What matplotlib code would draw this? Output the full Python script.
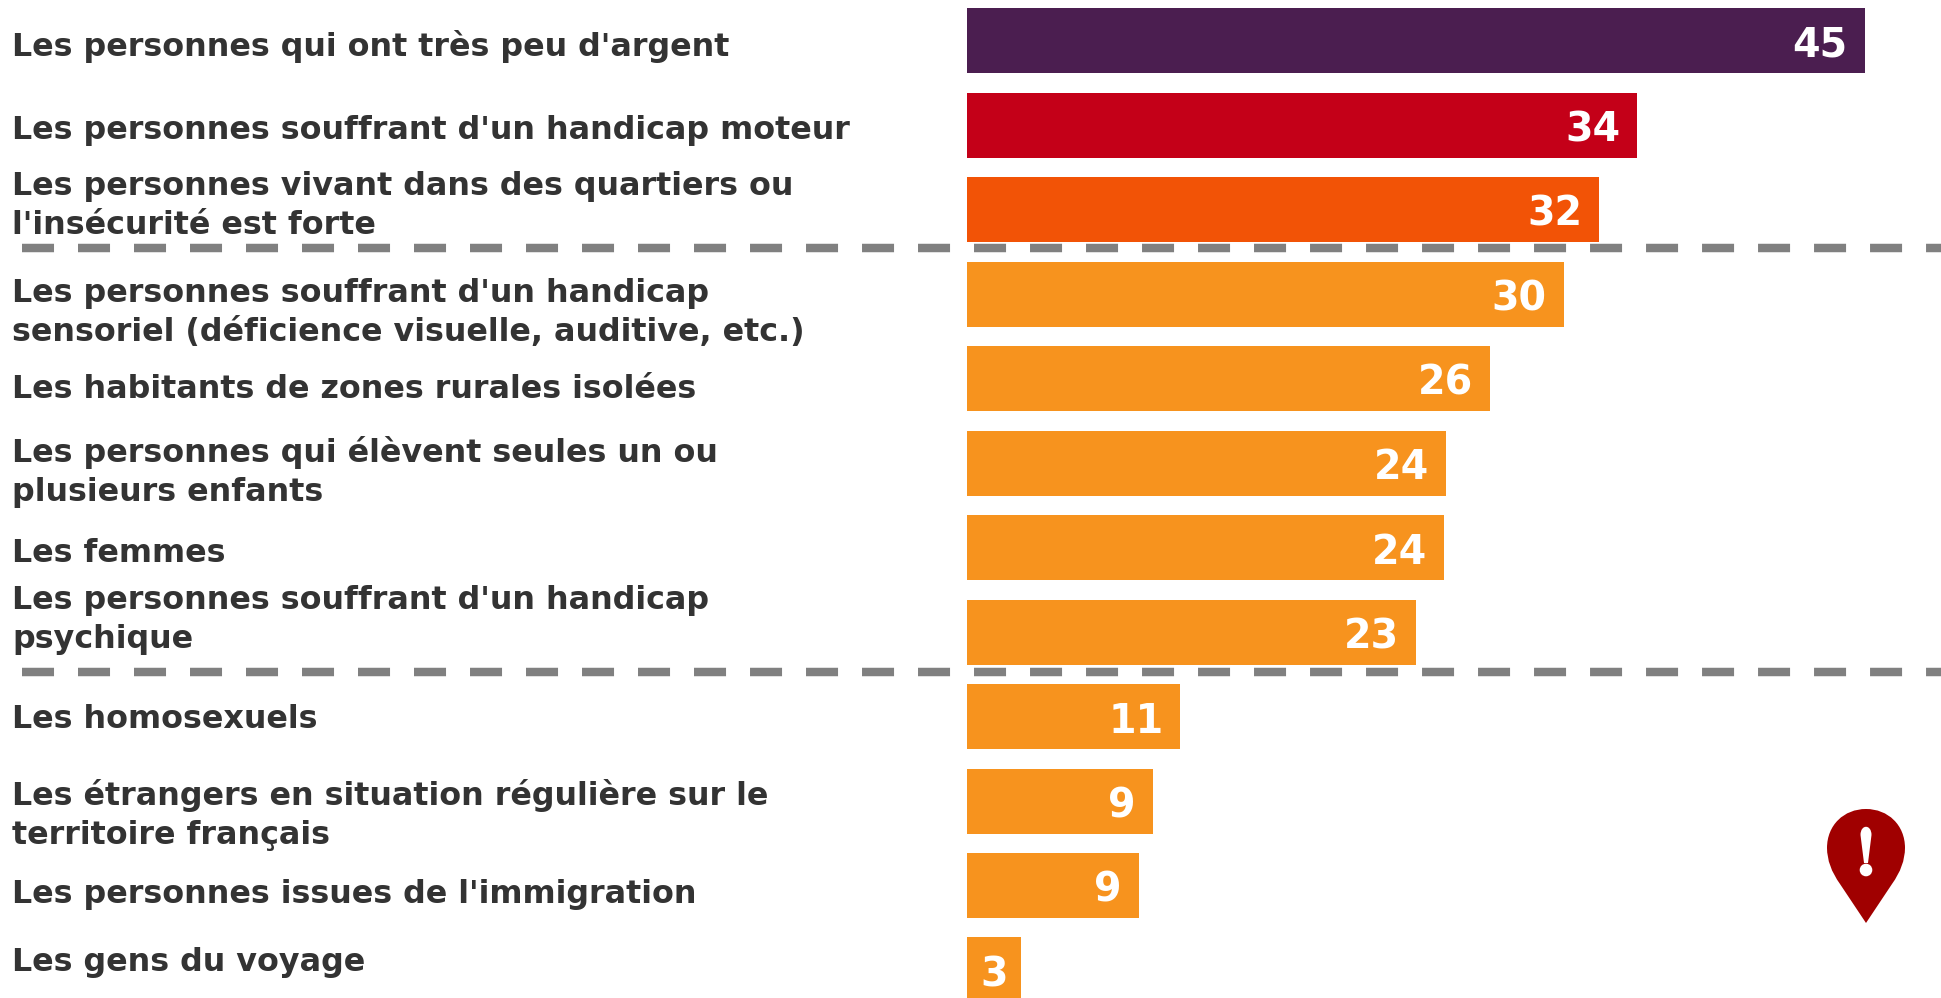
# bar chart with grouped categories, dashed separators and a pin icon
import matplotlib
matplotlib.use("Agg")
import matplotlib.pyplot as plt
from matplotlib.path import Path
from matplotlib.patches import PathPatch, Circle

W, H = 1941, 998

categories = [
    "Les personnes qui ont très peu d'argent",
    "Les personnes souffrant d'un handicap moteur",
    "Les personnes vivant dans des quartiers ou\nl'insécurité est forte",
    "Les personnes souffrant d'un handicap\nsensoriel (déficience visuelle, auditive, etc.)",
    "Les habitants de zones rurales isolées",
    "Les personnes qui élèvent seules un ou\nplusieurs enfants",
    "Les femmes",
    "Les personnes souffrant d'un handicap\npsychique",
    "Les homosexuels",
    "Les étrangers en situation régulière sur le\nterritoire français",
    "Les personnes issues de l'immigration",
    "Les gens du voyage",
]
values = [45.0, 33.6, 31.7, 29.9, 26.2, 24.0, 23.9, 22.5, 10.7, 9.3, 8.6, 2.7]
shown = [45, 34, 32, 30, 26, 24, 24, 23, 11, 9, 9, 3]
colors = ["#4b1e50", "#c40018", "#f25306"] + ["#f7931e"] * 9

# centre of each text block, in pixels from the top
label_y = [46, 130, 206, 313, 390, 472, 554, 620, 719, 815, 894, 962]

UNIT = 19.95  # pixels per value
BAR_X = 967

fig = plt.figure(figsize=(W / 100, H / 100), dpi=100)

ax = fig.add_axes([BAR_X / W, 0, 1 - BAR_X / W, 1])
ax.barh(range(len(values)), values, height=0.77, color=colors)
ax.set_xlim(0, (W - BAR_X) / UNIT)
ax.set_ylim(11.331, -0.48)
ax.axis("off")
for i, v in enumerate(values):
    pad = 17 if v > 5 else 13
    ax.text(v - pad / UNIT, i + 0.06, str(shown[i]), ha="right", va="center",
            color="white", fontsize=28.5, fontweight="bold")

# overlay in pixel coordinates for the texts, separators and icon
top = fig.add_axes([0, 0, 1, 1])
top.set_xlim(0, W)
top.set_ylim(H, 0)
top.axis("off")
top.patch.set_alpha(0)

for c, y in zip(categories, label_y):
    top.text(12.5, y, c, ha="left", va="center", color="#333333", fontsize=22.9,
             fontweight="bold", linespacing=1.31)

for y in [247.5, 672]:
    top.plot([22, W], [y, y], color="#808080", linewidth=6.1,
             dashes=(3.78, 2.83), dash_capstyle="butt")

pin = Path(
    [(1866, 923), (1840, 884), (1827, 866), (1827, 848),
     (1827, 825), (1844, 809), (1866, 809),
     (1888, 809), (1905, 825), (1905, 848),
     (1905, 866), (1892, 884), (1866, 923), (1866, 923)],
    [Path.MOVETO, Path.LINETO, Path.CURVE3, Path.CURVE3,
     Path.CURVE4, Path.CURVE4, Path.CURVE4,
     Path.CURVE4, Path.CURVE4, Path.CURVE4,
     Path.CURVE3, Path.CURVE3, Path.LINETO, Path.CLOSEPOLY],
)
top.add_patch(PathPatch(pin, facecolor="#a00000", edgecolor="none"))
mark = Path(
    [(1860.5, 835), (1860.5, 824), (1871.5, 824), (1871.5, 835), (1868, 863), (1864, 863), (1860.5, 835)],
    [Path.MOVETO, Path.CURVE4, Path.CURVE4, Path.CURVE4, Path.LINETO, Path.LINETO, Path.CLOSEPOLY],
)
top.add_patch(PathPatch(mark, facecolor="white", edgecolor="none"))
top.add_patch(Circle((1866, 870), 6.3, facecolor="white", edgecolor="none"))

fig.savefig("out.png", dpi=100)
